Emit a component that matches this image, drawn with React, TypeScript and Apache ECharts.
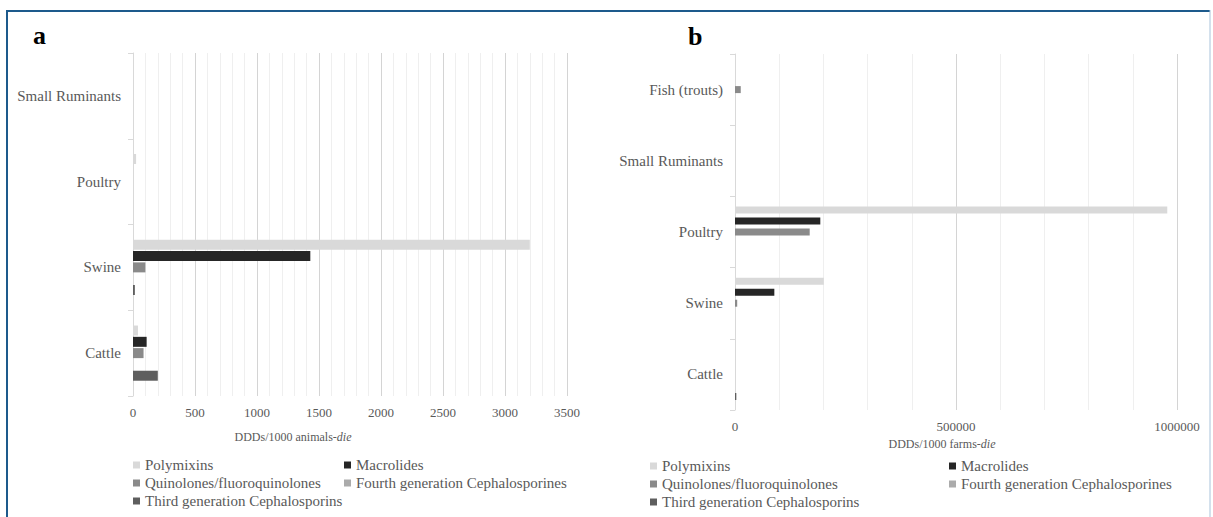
import React, { useEffect, useRef } from "react";
import * as echarts from "echarts";

const seriesNames = [
  "Polymixins",
  "Macrolides",
  "Quinolones/fluoroquinolones",
  "Fourth generation Cephalosporines",
  "Third generation Cephalosporins",
];
const seriesColors = ["#d9d9d9", "#262626", "#8a8a8a", "#ababab", "#5e5e5e"];

// Panel a: DDDs/1000 animals-die
const categoriesA = ["Cattle", "Swine", "Poultry", "Small Ruminants"];
const polymixinsA = [40, 3200, 25, 0];
const macrolidesA = [110, 1430, 0, 0];
const quinolonesA = [85, 100, 0, 0];
const fourthGenA = [0, 0, 0, 0];
const thirdGenA = [200, 15, 0, 0];
const ticksA = [0, 500, 1000, 1500, 2000, 2500, 3000, 3500];

// Panel b: DDDs/1000 farms-die
const categoriesB = ["Cattle", "Swine", "Poultry", "Small Ruminants", "Fish (trouts)"];
const polymixinsB = [0, 201000, 978000, 0, 0];
const macrolidesB = [0, 89000, 193000, 0, 0];
const quinolonesB = [0, 5000, 169000, 0, 13000];
const fourthGenB = [0, 0, 0, 0, 0];
const thirdGenB = [3000, 0, 0, 0, 0];
const ticksB = [0, 500000, 1000000];

const SERIF = "Liberation Serif, Times New Roman, serif";
const GRAY = "#595959";

export default function App() {
  const ref = useRef<HTMLDivElement>(null);

  useEffect(() => {
    if (!ref.current) return;
    const chart = echarts.init(ref.current, undefined, { renderer: "svg" });

    const dataA = [polymixinsA, macrolidesA, quinolonesA, fourthGenA, thirdGenA];
    const dataB = [polymixinsB, macrolidesB, quinolonesB, fourthGenB, thirdGenB];

    const makeX = (gridIndex: number, ticks: number[]) => ({
      type: "value",
      gridIndex,
      min: ticks[0],
      max: ticks[ticks.length - 1],
      interval: ticks[1] - ticks[0],
      axisLine: { show: false },
      axisTick: { show: false },
      axisLabel: {
        color: GRAY,
        fontFamily: SERIF,
        fontSize: 13,
        margin: 10,
        formatter: (v: number) => String(v),
      },
      splitLine: { show: true, lineStyle: { color: "#d4d4d4", width: 1 } },
      minorTick: { show: false, splitNumber: 5 },
      minorSplitLine: { show: true, lineStyle: { color: "#efefef", width: 1 } },
    });

    const makeY = (gridIndex: number, cats: string[]) => ({
      type: "category",
      gridIndex,
      data: cats,
      axisLine: { show: true, lineStyle: { color: "#d9d9d9" } },
      axisTick: { show: true, length: 5, lineStyle: { color: "#d9d9d9" } },
      axisLabel: { color: GRAY, fontFamily: SERIF, fontSize: 15, margin: 12 },
      splitLine: { show: false },
    });

    const series: any[] = [];
    seriesNames.forEach((name, i) => {
      series.push({
        type: "bar",
        name,
        xAxisIndex: 0,
        yAxisIndex: 0,
        data: dataA[i],
        barWidth: 10,
        barGap: "13%",
        itemStyle: { color: seriesColors[i] },
      });
    });
    seriesNames.forEach((name, i) => {
      series.push({
        type: "bar",
        name,
        xAxisIndex: 1,
        yAxisIndex: 1,
        data: dataB[i],
        barWidth: 7,
        barGap: "57%",
        itemStyle: { color: seriesColors[i] },
      });
    });

    const legendBase = {
      orient: "vertical",
      itemWidth: 7,
      itemHeight: 7,
      itemGap: 0,
      padding: 0,
      icon: "rect",
      selectedMode: false,
      textStyle: { color: GRAY, fontFamily: SERIF, fontSize: 15, lineHeight: 18 },
    };
    const col1 = [seriesNames[0], seriesNames[2], seriesNames[4]];
    const col2 = [seriesNames[1], seriesNames[3]];

    const titleText = (x: number, y: number, word: string) => ({
      type: "text",
      x,
      y,
      style: {
        text: `{n|DDDs/1000 ${word}-}{i|die}`,
        align: "center",
        verticalAlign: "middle",
        fontFamily: SERIF,
        fontSize: 12,
        fill: GRAY,
        rich: {
          n: { fontFamily: SERIF, fontSize: 12, fill: GRAY, color: GRAY },
          i: { fontFamily: SERIF, fontSize: 12, fontStyle: "italic", fill: GRAY, color: GRAY },
        },
      },
    });

    chart.setOption({
      animation: false,
      backgroundColor: "#ffffff",
      textStyle: { fontFamily: SERIF },
      grid: [
        { left: 133, top: 53, width: 434, height: 343 },
        { left: 735, top: 54, width: 442, height: 356 },
      ],
      xAxis: [makeX(0, ticksA), makeX(1, ticksB)],
      yAxis: [makeY(0, categoriesA), makeY(1, categoriesB)],
      legend: [
        { ...legendBase, left: 133, top: 456, data: col1 },
        { ...legendBase, left: 344, top: 456, data: col2 },
        { ...legendBase, left: 650, top: 457, data: col1 },
        { ...legendBase, left: 949, top: 457, data: col2 },
      ],
      series,
      graphic: [
        { type: "line", shape: { x1: 7, y1: 11, x2: 1210, y2: 11 }, style: { stroke: "#1d5a8c", lineWidth: 2 } },
        { type: "line", shape: { x1: 7, y1: 10, x2: 7, y2: 517 }, style: { stroke: "#1d5a8c", lineWidth: 2 } },
        { type: "line", shape: { x1: 1210, y1: 10, x2: 1210, y2: 517 }, style: { stroke: "#a9c2da", lineWidth: 1 } },
        {
          type: "text",
          x: 33,
          y: 48,
          style: { text: "a", fontFamily: SERIF, fontSize: 26, fontWeight: "bold", fill: "#000", verticalAlign: "bottom" },
        },
        {
          type: "text",
          x: 688,
          y: 49,
          style: { text: "b", fontFamily: SERIF, fontSize: 26, fontWeight: "bold", fill: "#000", verticalAlign: "bottom" },
        },
        titleText(293, 437, "animals"),
        titleText(942, 444, "farms"),
      ],
    });

    return () => chart.dispose();
  }, []);

  return (
    <div
      ref={ref}
      style={{ position: "absolute", left: 0, top: 0, width: 1213, height: 517, background: "#fff" }}
    />
  );
}
